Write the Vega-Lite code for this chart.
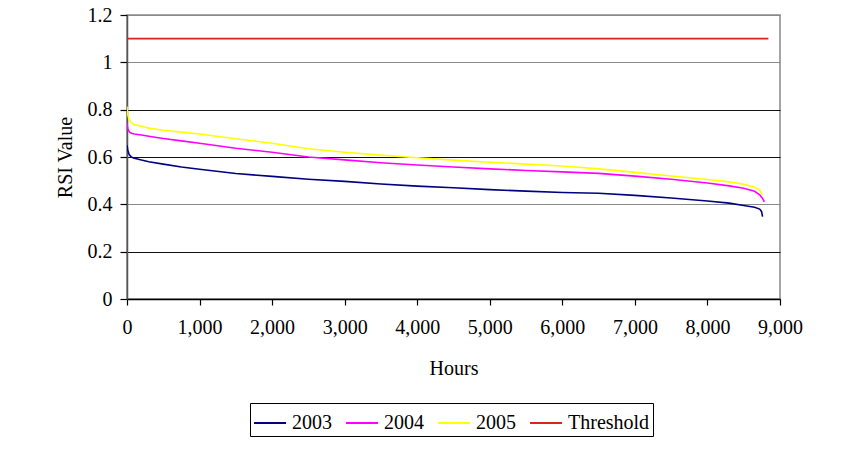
{
  "$schema": "https://vega.github.io/schema/vega-lite/v6.json",
  "autosize": {"type": "none"},
  "width": 653,
  "height": 284,
  "padding": {"left": 127, "top": 15, "right": 84, "bottom": 160},
  "background": "white",
  "config": {
    "view": {"stroke": "#888888", "strokeWidth": 1.5},
    "font": "Liberation Serif",
    "axis": {"labelFont": "Liberation Serif", "titleFont": "Liberation Serif", "labelColor": "black", "titleColor": "black", "labelFontSize": 20, "titleFontSize": 20, "titleFontWeight": "normal", "tickColor": "black"}
  },
  "data": {"values": [
    {"s":"2003","h":0,"v":0.65},{"s":"2003","h":10,"v":0.63},{"s":"2003","h":30,"v":0.61},{"s":"2003","h":60,"v":0.6},{"s":"2003","h":100,"v":0.595},{"s":"2003","h":200,"v":0.587},{"s":"2003","h":300,"v":0.58},{"s":"2003","h":500,"v":0.57},{"s":"2003","h":750,"v":0.558},{"s":"2003","h":1000,"v":0.548},{"s":"2003","h":1500,"v":0.53},{"s":"2003","h":2000,"v":0.518},{"s":"2003","h":2500,"v":0.506},{"s":"2003","h":3000,"v":0.497},{"s":"2003","h":3500,"v":0.486},{"s":"2003","h":4000,"v":0.477},{"s":"2003","h":4500,"v":0.47},{"s":"2003","h":5000,"v":0.462},{"s":"2003","h":5500,"v":0.456},{"s":"2003","h":6000,"v":0.45},{"s":"2003","h":6500,"v":0.447},{"s":"2003","h":7000,"v":0.438},{"s":"2003","h":7500,"v":0.427},{"s":"2003","h":8000,"v":0.414},{"s":"2003","h":8300,"v":0.405},{"s":"2003","h":8500,"v":0.395},{"s":"2003","h":8650,"v":0.388},{"s":"2003","h":8720,"v":0.38},{"s":"2003","h":8745,"v":0.37},{"s":"2003","h":8760,"v":0.348},
    {"s":"2004","h":0,"v":0.742},{"s":"2004","h":10,"v":0.72},{"s":"2004","h":30,"v":0.707},{"s":"2004","h":60,"v":0.7},{"s":"2004","h":100,"v":0.697},{"s":"2004","h":200,"v":0.693},{"s":"2004","h":300,"v":0.688},{"s":"2004","h":500,"v":0.678},{"s":"2004","h":750,"v":0.668},{"s":"2004","h":1000,"v":0.658},{"s":"2004","h":1500,"v":0.637},{"s":"2004","h":2000,"v":0.62},{"s":"2004","h":2500,"v":0.6},{"s":"2004","h":3000,"v":0.588},{"s":"2004","h":3500,"v":0.576},{"s":"2004","h":4000,"v":0.566},{"s":"2004","h":4500,"v":0.558},{"s":"2004","h":5000,"v":0.55},{"s":"2004","h":5500,"v":0.543},{"s":"2004","h":6000,"v":0.537},{"s":"2004","h":6500,"v":0.531},{"s":"2004","h":7000,"v":0.519},{"s":"2004","h":7500,"v":0.506},{"s":"2004","h":8000,"v":0.49},{"s":"2004","h":8300,"v":0.478},{"s":"2004","h":8500,"v":0.468},{"s":"2004","h":8650,"v":0.455},{"s":"2004","h":8720,"v":0.44},{"s":"2004","h":8760,"v":0.425},{"s":"2004","h":8784,"v":0.41},
    {"s":"2005","h":0,"v":0.813},{"s":"2005","h":10,"v":0.78},{"s":"2005","h":30,"v":0.756},{"s":"2005","h":60,"v":0.745},{"s":"2005","h":100,"v":0.737},{"s":"2005","h":200,"v":0.73},{"s":"2005","h":300,"v":0.722},{"s":"2005","h":500,"v":0.713},{"s":"2005","h":750,"v":0.705},{"s":"2005","h":1000,"v":0.697},{"s":"2005","h":1500,"v":0.677},{"s":"2005","h":2000,"v":0.658},{"s":"2005","h":2500,"v":0.635},{"s":"2005","h":3000,"v":0.62},{"s":"2005","h":3500,"v":0.608},{"s":"2005","h":4000,"v":0.597},{"s":"2005","h":4500,"v":0.587},{"s":"2005","h":5000,"v":0.578},{"s":"2005","h":5500,"v":0.57},{"s":"2005","h":6000,"v":0.562},{"s":"2005","h":6500,"v":0.55},{"s":"2005","h":7000,"v":0.535},{"s":"2005","h":7500,"v":0.52},{"s":"2005","h":8000,"v":0.505},{"s":"2005","h":8300,"v":0.495},{"s":"2005","h":8500,"v":0.485},{"s":"2005","h":8650,"v":0.472},{"s":"2005","h":8720,"v":0.46},{"s":"2005","h":8760,"v":0.44},
    {"s":"Threshold","h":0,"v":1.1},{"s":"Threshold","h":8840,"v":1.1}
  ]},
  "mark": {"type": "line", "strokeWidth": 1.6, "clip": true},
  "encoding": {
    "x": {"field": "h", "type": "quantitative", "title": "Hours",
      "scale": {"domain": [0, 9000], "nice": false, "zero": true},
      "axis": {"values": [0,1000,2000,3000,4000,5000,6000,7000,8000,9000], "format": ",d", "grid": false, "domainColor": "black", "domainWidth": 1.5, "tickSize": 6, "tickWidth": 1.2, "labelPadding": 12, "titlePadding": 21, "labelFlush": false}},
    "y": {"field": "v", "type": "quantitative", "title": "RSI Value",
      "scale": {"domain": [0, 1.2], "nice": false},
      "axis": {"values": [0,0.2,0.4,0.6,0.8,1,1.2], "format": ".1~f", "grid": true,
        "gridColor": {"condition": {"test": "datum.value == 0.4 || datum.value == 1 || datum.value >= 1.2", "value": "#8a8a8a"}, "value": "#111111"},
        "gridWidth": 1.2, "gridOpacity": 1, "domainColor": "#555555", "domainWidth": 1.5, "tickSize": 7, "tickWidth": 1.2, "labelPadding": 8, "titlePadding": 12, "labelFlush": false}},
    "color": {"field": "s", "type": "nominal",
      "scale": {"domain": ["2003","2004","2005","Threshold"], "range": ["#000080","#ff00ff","#ffff00","#dd2222"]},
      "legend": {"title": null, "orient": "none", "direction": "horizontal", "legendX": 123, "legendY": 388,
        "strokeColor": "black", "padding": 3, "symbolType": "stroke", "symbolSize": 1024, "symbolStrokeWidth": 2,
        "labelFont": "Liberation Serif", "labelFontSize": 20, "labelColor": "black", "labelOffset": 5, "columnPadding": 10, "fillColor": "white"}},
    "detail": {"field": "s"}
  }
}
